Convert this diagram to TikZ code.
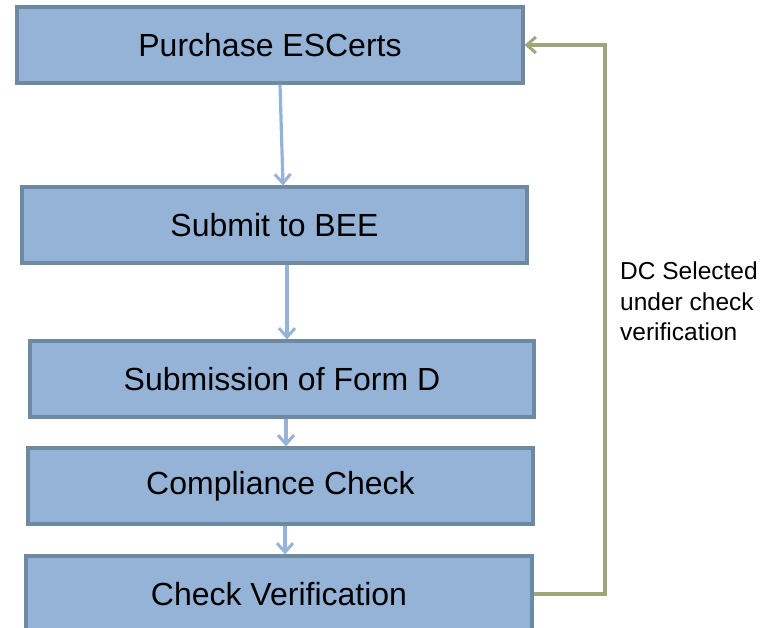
\documentclass[tikz,border=0pt]{standalone}
\usepackage{fontspec}
\setmainfont{Liberation Sans}
\usetikzlibrary{arrows.meta}
\definecolor{boxfill}{HTML}{95B3D7}
\definecolor{boxline}{HTML}{6E89A2}
\definecolor{flowblue}{HTML}{95B3D7}
\definecolor{loopgreen}{HTML}{9DA77B}
\begin{document}
\begin{tikzpicture}[x=1pt,y=-1pt,
  stepbox/.style={draw=boxline,fill=boxfill,line width=3.2pt,rectangle,
    minimum height=76pt,inner sep=0pt,
    font=\fontsize{32}{38}\selectfont},
  flow/.style={draw=flowblue,line width=3.2pt,-{Straight Barb[length=9pt,width=16pt,line width=3pt]}},
  loop/.style={draw=loopgreen,line width=3.2pt,-{Straight Barb[length=9pt,width=16pt,line width=3pt]}}]
\useasboundingbox (0,0) rectangle (770,627);
\node[stepbox,minimum width=506pt] (b1) at (270,45) {Purchase ESCerts};
\node[stepbox,minimum width=505pt] (b2) at (274.5,225) {Submit to BEE};
\node[stepbox,minimum width=504pt] (b3) at (282,379) {Submission of Form D};
\node[stepbox,minimum width=505pt] (b4) at (280.5,486) {Compliance Check};
\node[stepbox,minimum width=506pt] (b5) at (279,594) {Check Verification};
\draw[flow] ([xshift=10pt]b1.south) -- ([xshift=8.5pt]b2.north);
\draw[flow] ([xshift=12.5pt]b2.south) -- ([xshift=5pt]b3.north);
\draw[flow] ([xshift=4pt]b3.south) -- ([xshift=5.5pt]b4.north);
\draw[flow] ([xshift=4.5pt]b4.south) -- ([xshift=6pt]b5.north);
\coordinate (turn) at (605,594);
\draw[loop] (b5.east) -- (turn) |- (b1.east);
\node[anchor=north west,align=left,inner sep=0pt,
  font=\fontsize{24.5}{30.5}\selectfont] (lbl) at (620,262)
  {DC Selected\\under check\\verification};
\end{tikzpicture}
\end{document}
